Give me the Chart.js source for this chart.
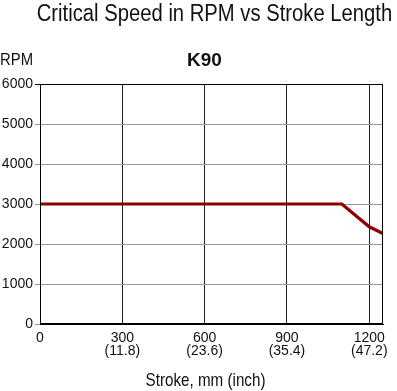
<!DOCTYPE html>
<html>
<head>
<meta charset="utf-8">
<script src="https://cdn.jsdelivr.net/npm/chart.js@4/dist/chart.umd.min.js"></script>
<style>
html,body{margin:0;padding:0;background:#fff;}
#c{display:block;}
</style>
</head>
<body>
<canvas id="c" width="397" height="391"></canvas>
<script>
// ---- data ----
const strokeMm = [0, 1100, 1200, 1250];
const criticalRpm = [3000, 3000, 2430, 2260];
const xTickMm = [0, 300, 600, 900, 1200];
const xTickInch = ['', '11.8', '23.6', '35.4', '47.2'];
const yTicks = [0, 1000, 2000, 3000, 4000, 5000, 6000];
const mainTitle = 'Critical Speed in RPM vs Stroke Length';
const subTitle = 'K90';
const yUnit = 'RPM';
const xAxisTitle = 'Stroke, mm (inch)';

const SANS = "'Liberation Sans', Arial, sans-serif";

function scaledText(ctx, text, x, y, font, align, sx) {
  ctx.save();
  ctx.font = font;
  ctx.textAlign = align;
  ctx.textBaseline = 'alphabetic';
  ctx.translate(x, y);
  ctx.scale(sx, 1);
  ctx.fillText(text, 0, 0);
  ctx.restore();
}

const titlesPlugin = {
  id: 'titles',
  afterDraw(chart) {
    const ctx = chart.ctx;
    ctx.save();
    ctx.fillStyle = '#111';
    scaledText(ctx, mainTitle, 214.5, 21, "23px " + SANS, 'center', 0.88);
    scaledText(ctx, subTitle, 204.5, 66, "bold 19px " + SANS, 'center', 1);
    scaledText(ctx, yUnit, 0, 65, "16px " + SANS, 'left', 0.93);
    const a = chart.chartArea;
    scaledText(ctx, xAxisTitle, (a.left + a.right) / 2 - 6, 386, "19px " + SANS, 'center', 0.8);
    ctx.restore();
  }
};

new Chart(document.getElementById('c'), {
  type: 'line',
  data: {
    datasets: [{
      data: strokeMm.map((x, i) => ({x: x, y: criticalRpm[i]})),
      borderColor: '#8b0000',
      borderWidth: 3.2,
      pointRadius: 0,
      tension: 0,
      fill: false
    }]
  },
  options: {
    responsive: false,
    animation: false,
    devicePixelRatio: 1,
    layout: {padding: {left: 0, right: 14, top: 84, bottom: 0}},
    plugins: {legend: {display: false}, tooltip: {enabled: false}, title: {display: false}},
    scales: {
      x: {
        type: 'linear',
        min: 0,
        max: 1250,
        afterBuildTicks(scale) { scale.ticks = xTickMm.map(v => ({value: v})); },
        afterFit(scale) { scale.height = 67; },
        grid: {color: '#222', lineWidth: 1, drawTicks: false},
        border: {display: true, color: '#000', width: 1},
        ticks: {
          padding: 7,
          color: '#111',
          font: {family: SANS, size: 14, lineHeight: 0.95},
          maxRotation: 0,
          autoSkip: false,
          callback(value) {
            const i = xTickMm.indexOf(value);
            return xTickInch[i] ? [String(value), '(' + xTickInch[i] + ')'] : String(value);
          }
        },
        title: {display: false}
      },
      y: {
        min: 0,
        max: 6000,
        afterBuildTicks(scale) { scale.ticks = yTicks.map(v => ({value: v})); },
        afterFit(scale) { scale.width = 40; },
        grid: {
          color: (c) => (c.tick && c.tick.value === 6000) ? '#000' : '#999',
          lineWidth: 1,
          drawTicks: true,
          tickLength: 5
        },
        border: {display: true, color: '#000', width: 1},
        ticks: {
          padding: 2,
          color: '#111',
          font: {family: SANS, size: 14},
          callback(value) { return String(value); }
        }
      }
    }
  },
  plugins: [titlesPlugin, {
    id: 'frame',
    afterDraw(chart) {
      const a = chart.chartArea, ctx = chart.ctx;
      ctx.save();
      ctx.strokeStyle = '#000';
      ctx.lineWidth = 1;
      ctx.strokeRect(Math.round(a.left) + 0.5, Math.round(a.top) + 0.5, Math.round(a.right - a.left) - 1, Math.round(a.bottom - a.top) - 1);
      ctx.restore();
    }
  }]
});
</script>
</body>
</html>
